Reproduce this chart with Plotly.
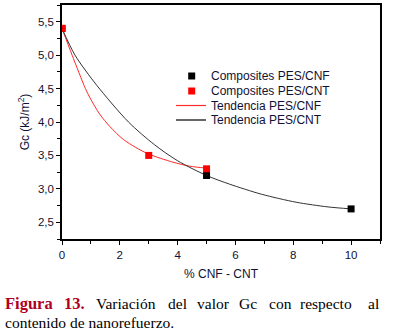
import plotly.graph_objects as go

# Data points
cnf_x = [0, 5, 10]
cnf_y = [5.4, 3.2, 2.7]
cnt_x = [0, 3, 5]
cnt_y = [5.4, 3.5, 3.3]

# Trend curves
trend_red_x = [0, 0.35, 0.81, 0.97, 1.3, 1.66, 2.12, 2.55, 3.0, 3.83, 4.41, 5.0]
trend_red_y = [5.4, 5.0, 4.5, 4.36, 4.12, 3.93, 3.74, 3.62, 3.52, 3.4, 3.34, 3.31]
trend_black_x = [0, 0.45, 1.2, 2.3, 3.2, 4.0, 5.0, 5.8, 6.9, 8.1, 9.2, 10.0]
trend_black_y = [5.4, 5.0, 4.55, 4.0, 3.66, 3.42, 3.2, 3.07, 2.92, 2.8, 2.73, 2.7]

x_ticks = [0, 2, 4, 6, 8, 10]
y_ticks = [2.5, 3.0, 3.5, 4.0, 4.5, 5.0, 5.5]

legend_names = ["Composites PES/CNF", "Composites PES/CNT", "Tendencia PES/CNF", "Tendencia PES/CNT"]

RED = "#ff0000"
REDLINE = "#ff2a2a"
BLACK = "#000000"
TXT = "#111133"

fig = go.Figure()
fig.add_trace(go.Scatter(x=trend_red_x, y=trend_red_y, mode="lines", name=legend_names[2],
                         line=dict(color=REDLINE, width=1, shape="spline", smoothing=0.8)))
fig.add_trace(go.Scatter(x=trend_black_x, y=trend_black_y, mode="lines", name=legend_names[3],
                         line=dict(color="#333333", width=1, shape="spline", smoothing=0.8)))
fig.add_trace(go.Scatter(x=cnf_x, y=cnf_y, mode="markers", name=legend_names[0],
                         marker=dict(symbol="square", color=BLACK, size=7)))
fig.add_trace(go.Scatter(x=cnt_x, y=cnt_y, mode="markers", name=legend_names[1],
                         marker=dict(symbol="square", color=RED, size=7)))

L, R, T, B = 62, 380, 5, 239
W, H = 395, 332

def px(x):
    return (x - L) / (R - L)

def py(y):
    return (B - y) / (B - T)

axis_common = dict(showline=True, linecolor="black", linewidth=1.6, mirror=True,
                   ticks="outside", ticklen=4, tickwidth=1.2, tickcolor="black",
                   showgrid=False, zeroline=False, automargin=False,
                   tickfont=dict(family="Liberation Sans, Arial", size=11.5, color=TXT))

fig.update_layout(
    width=W, height=H,
    margin=dict(l=L, r=W - R, t=T, b=H - B, autoexpand=False),
    plot_bgcolor="white", paper_bgcolor="white",
    separators=",.",
    showlegend=False,
    xaxis=dict(range=[0, 11], tickvals=x_ticks, ticktext=[str(v) for v in x_ticks],
               minor=dict(dtick=1, ticklen=3, ticks="outside", tickcolor="black"),
               title=dict(text="% CNF - CNT", standoff=10,
                          font=dict(family="Liberation Sans, Arial", size=12, color=TXT)),
               **axis_common),
    yaxis=dict(range=[2.25, 5.75], tickvals=y_ticks, tickformat=".1f",
               minor=dict(dtick=0.25, ticklen=3, ticks="outside", tickcolor="black"),
               title=dict(text="Gc (kJ/m<sup>2</sup>)", standoff=6,
                          font=dict(family="Liberation Sans, Arial", size=12, color=TXT)),
               **axis_common),
)

# Manual legend (symbols as shapes, labels as real text)
rows_y = [76, 91, 105.5, 120]
for i, name in enumerate(legend_names):
    yc = rows_y[i]
    if i < 2:
        col = BLACK if i == 0 else RED
        fig.add_shape(type="rect", xref="paper", yref="paper",
                      x0=px(188.2), x1=px(195.2), y0=py(yc + 3.5), y1=py(yc - 3.5),
                      fillcolor=col, line=dict(width=0))
    else:
        col = REDLINE if i == 2 else BLACK
        fig.add_shape(type="line", xref="paper", yref="paper",
                      x0=px(176), x1=px(206), y0=py(yc), y1=py(yc),
                      line=dict(color=col, width=1.2))
    fig.add_annotation(x=px(209), y=py(yc), xref="paper", yref="paper", text=name,
                       showarrow=False, xanchor="left", yanchor="middle",
                       font=dict(family="Liberation Sans, Arial", size=12, color=TXT))

serif = "Liberation Serif, Times New Roman, serif"
line1 = [("<b>Figura</b>", 3, "#b00020", 16.5), ("<b>13.</b>", 62, "#b00020", 16.5),
         ("Variación", 94, "black", 15.5), ("del", 166, "black", 15.5),
         ("valor", 195, "black", 15.5), ("Gc", 237, "black", 15.5), ("con", 267, "black", 15.5),
         ("respecto", 298, "black", 15.5), ("al", 366, "black", 15.5)]
for txt, xl, col, fs in line1:
    fig.add_annotation(x=px(xl), y=py(303), xref="paper", yref="paper", text=txt,
                       showarrow=False, xanchor="left", yanchor="middle",
                       font=dict(family=serif, size=fs, color=col))
fig.add_annotation(x=px(3), y=py(322), xref="paper", yref="paper", text="contenido de nanorefuerzo.",
                   showarrow=False, xanchor="left", yanchor="middle",
                   font=dict(family=serif, size=15.5, color="black"))

fig.write_html("out.html", config={"displayModeBar": False},
               post_script="document.body.style.margin='0';document.body.style.overflow='hidden';")
